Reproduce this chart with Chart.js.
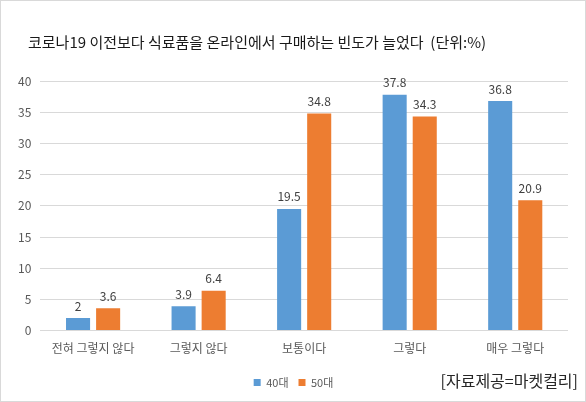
<!DOCTYPE html>
<html>
<head>
<meta charset="utf-8">
<script src="https://cdn.jsdelivr.net/npm/chart.js@4"></script>
<style>
  html, body { margin: 0; padding: 0; background: #fff; }
  #wrap { width: 586px; height: 402px; box-sizing: border-box; border: 1px solid #d9d9d9; }
  canvas { display: block; }
</style>
</head>
<body>
<div id="wrap"><canvas id="chart" width="584" height="400"></canvas></div>
<script>
// categories and series (unit: %)
const categories = ['전혀 그렇지 않다', '그렇지 않다', '보통이다', '그렇다', '매우 그렇다'];
const seriesNames = ['40대', '50대'];
const values40 = [2, 3.9, 19.5, 37.8, 36.8];
const values50 = [3.6, 6.4, 34.8, 34.3, 20.9];
const titleText = '코로나19 이전보다 식료품을 온라인에서 구매하는 빈도가 늘었다  (단위:%)';
const sourceText = '[자료제공=마켓컬리]';

const FONT = "'Noto Sans CJK KR', 'Noto Sans', sans-serif";

// value labels above bars + title + source note
const extrasPlugin = {
  id: 'extras',
  afterLayout(chart) {
    // nudge the legend to where the reference has it
    const lg = chart.legend;
    if (lg) { lg.top += 8; lg.bottom += 8; lg.left += 5; lg.right += 5; }
  },
  afterDatasetsDraw(chart) {
    const ctx = chart.ctx;
    ctx.save();
    ctx.font = '12px ' + FONT;
    ctx.fillStyle = '#404040';
    ctx.textAlign = 'center';
    ctx.textBaseline = 'bottom';
    chart.data.datasets.forEach((ds, i) => {
      chart.getDatasetMeta(i).data.forEach((bar, j) => {
        ctx.fillText(String(ds.data[j]), bar.x, bar.y - 6);
      });
    });
    ctx.restore();
  },
  afterDraw(chart) {
    const ctx = chart.ctx;
    ctx.save();
    ctx.fillStyle = '#1a1a1a';
    ctx.font = '15px ' + FONT;
    ctx.textAlign = 'left';
    ctx.textBaseline = 'middle';
    ctx.fillText(titleText, 27, 41);
    ctx.fillStyle = '#262626';
    ctx.font = '16px ' + FONT;
    ctx.textAlign = 'right';
    ctx.fillText(sourceText, 577, 380);
    ctx.restore();
  }
};

new Chart(document.getElementById('chart').getContext('2d'), {
  type: 'bar',
  data: {
    labels: categories,
    datasets: [
      { label: seriesNames[0], data: values40, backgroundColor: '#5b9bd5' },
      { label: seriesNames[1], data: values50, backgroundColor: '#ed7d31' }
    ]
  },
  options: {
    responsive: false,
    animation: false,
    datasets: { bar: { barPercentage: 0.8, categoryPercentage: 0.57 } },
    layout: { padding: { top: 80, left: 8, right: 17, bottom: 11 } },
    plugins: {
      title: { display: false },
      tooltip: { enabled: false },
      legend: {
        position: 'bottom',
        labels: {
          boxWidth: 7, boxHeight: 7, padding: 10,
          color: '#595959',
          font: { size: 11, family: FONT }
        }
      }
    },
    scales: {
      x: {
        grid: { display: false },
        border: { display: false },
        ticks: { color: '#595959', font: { size: 12, family: FONT }, padding: 3, maxRotation: 0 }
      },
      y: {
        min: 0, max: 40,
        ticks: { stepSize: 5, color: '#595959', font: { size: 12, family: FONT }, padding: 9 },
        grid: { color: '#d9d9d9', drawTicks: false },
        border: { display: false }
      }
    }
  },
  plugins: [extrasPlugin]
});
</script>
</body>
</html>
